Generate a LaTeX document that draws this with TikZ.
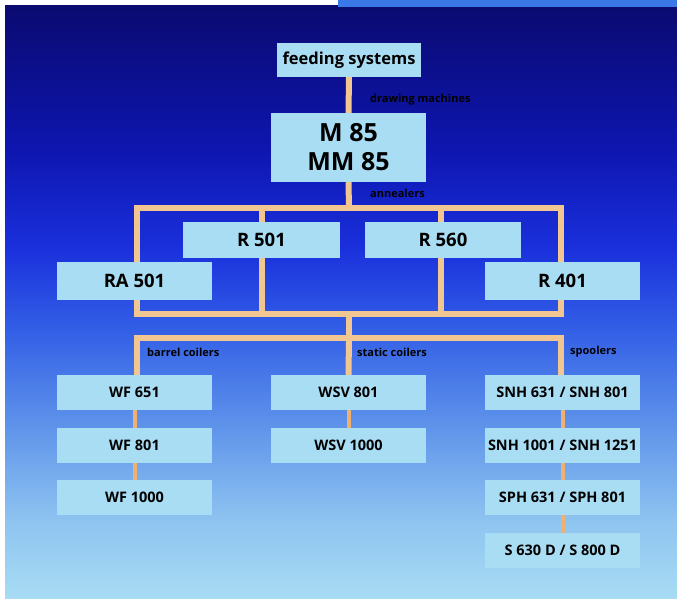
\documentclass[tikz,border=0pt]{standalone}
\usepackage{fontspec}
\setmainfont{Open Sans}
\definecolor{boxblue}{HTML}{A9DDF3}
\definecolor{pipecol}{HTML}{F2C690}
\definecolor{linkcol}{HTML}{F0B070}
\definecolor{barcol}{HTML}{3A78E8}
\definecolor{gA}{HTML}{A8DCF4}
\definecolor{gB}{HTML}{8EC4F0}
\definecolor{gC}{HTML}{5C90EA}
\definecolor{gD}{HTML}{3360E6}
\definecolor{gE}{HTML}{1A30DC}
\definecolor{gF}{HTML}{0E16B0}
\definecolor{gG}{HTML}{0A0A70}
\pgfdeclareverticalshading{bgshade}{100bp}{color(0bp)=(gA); color(25bp)=(gA); color(31.5bp)=(gB); color(40bp)=(gC); color(47.5bp)=(gD); color(54.5bp)=(gE); color(62.75bp)=(gF); color(75bp)=(gG); color(100bp)=(gG)}
\pgfdeclarelayer{bg}
\pgfdeclarelayer{lines}
\pgfsetlayers{bg,lines,main}
\begin{document}
\begin{tikzpicture}[x=1pt,y=1pt,
  box/.style={fill=boxblue, inner sep=0pt, font=\bfseries\fontsize{14.5}{17}\selectfont, text=black, minimum width=155pt, minimum height=35pt, align=center},
  pipe/.style={draw=pipecol, line width=6pt, line join=miter},
  link/.style={draw=linkcol, line width=4pt},
  lbl/.style={font=\bfseries\fontsize{11}{13}\selectfont, text=black, inner sep=0pt, anchor=west}]
\useasboundingbox (0,0) rectangle (677,-598);
% boxes
\node[box, minimum width=144pt, minimum height=34pt, font=\bfseries\fontsize{16.5}{19}\selectfont] (feed) at (349,-60) {feeding systems};
\node[box, minimum height=69pt, font=\bfseries\fontsize{25}{29}\selectfont] (m85) at (348.5,-147.5) {M 85\\MM 85};
\node[box, minimum width=157pt, minimum height=36pt, font=\bfseries\fontsize{18.5}{20}\selectfont] (r501) at (261.5,-240) {R 501};
\node[box, minimum width=156pt, minimum height=36pt, font=\bfseries\fontsize{18.5}{20}\selectfont] (r560) at (443,-240) {R 560};
\node[box, minimum height=38pt, font=\bfseries\fontsize{18.5}{20}\selectfont] (ra501) at (134.5,-281) {RA 501};
\node[box, minimum height=38pt, font=\bfseries\fontsize{18.5}{20}\selectfont] (r401) at (562.5,-281) {R 401};
\node[box] (wf651) at (134.5,-392.5) {WF 651};
\node[box] (wsv801) at (348.5,-392.5) {WSV 801};
\node[box] (snh1) at (562.5,-392.5) {SNH 631 / SNH 801};
\node[box] (wf801) at (134.5,-445.5) {WF 801};
\node[box] (wsv1000) at (348.5,-445.5) {WSV 1000};
\node[box] (snh2) at (562.5,-445.5) {SNH 1001 / SNH 1251};
\node[box] (wf1000) at (134.5,-497.5) {WF 1000};
\node[box] (sph) at (562.5,-497.5) {SPH 631 / SPH 801};
\node[box] (s630) at (562.5,-550.5) {S 630 D / S 800 D};
% labels
\node[lbl] (ldraw) at (370,-100) {drawing machines};
\node[lbl] (lanneal) at (370,-193) {annealers};
\node[lbl] (lbarrel) at (147,-352) {barrel coilers};
\node[lbl] (lstatic) at (357,-352) {static coilers};
\node[lbl] (lspool) at (570,-352) {spoolers};
% coordinates of the pipe frame
\coordinate (tl) at (137,-208);
\coordinate (tm) at (349,-208);
\coordinate (tr) at (561,-208);
\coordinate (bl) at (137,-314);
\coordinate (bm) at (349,-314);
\coordinate (br) at (561,-314);
\coordinate (hl) at (137,-338);
\coordinate (hm) at (349,-338);
\coordinate (hr) at (561,-338);
\coordinate (t1) at (262,-208);
\coordinate (b1) at (262,-314);
\coordinate (t2) at (441,-208);
\coordinate (b2) at (441,-314);
\begin{pgfonlayer}{bg}
  \fill[white] (0,0) rectangle (677,-598);
  \shade[shading=bgshade] (5,-5) rectangle (677,-598);
  \fill[barcol] (338,0) rectangle (677,-7);
\end{pgfonlayer}
\begin{pgfonlayer}{lines}
  \draw[pipe] (feed.south) -- (m85.north);
  \draw[pipe] (m85.south) -- (tm);
  \draw[pipe] (tl) -- (tr) -- (br) -- (bl) -- cycle;
  \draw[pipe] (t1) -- (b1);
  \draw[pipe] (t2) -- (b2);
  \draw[pipe] (bm) -- (hm);
  \draw[pipe, line cap=rect] (hl) -- (hr);
  \draw[pipe] (hl) -- (hl |- wf651.north);
  \draw[pipe] (hm) -- (wsv801.north);
  \draw[pipe] (hr) -- (hr |- snh1.north);
  \draw[link] (wf651) -- (wf801);
  \draw[link] (wf801) -- (wf1000);
  \draw[link] (wsv801) -- (wsv1000);
  \draw[link] (snh1) -- (snh2);
  \draw[link] (snh2) -- (sph);
  \draw[link] (sph) -- (s630);
\end{pgfonlayer}
\end{tikzpicture}
\end{document}
